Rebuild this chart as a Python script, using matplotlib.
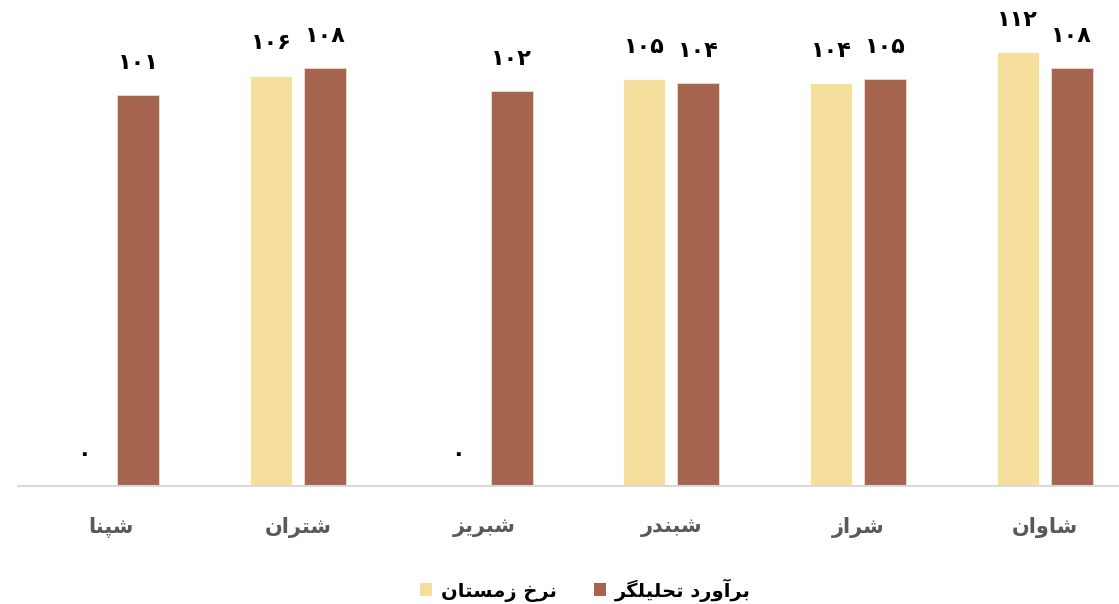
import matplotlib
matplotlib.use("Agg")
import matplotlib.pyplot as plt
from matplotlib.patches import Patch
import numpy as np

# Chart data
categories = ["شپنا", "شتران", "شبریز", "شبندر", "شراز", "شاوان"]
winter_rate = [0, 106, 0, 105, 104, 112]
analyst_estimate = [101, 108, 102, 104, 105, 108]
series_names = ["نرخ زمستان", "برآورد تحلیلگر"]

YELLOW = "#F6DF9C"
BROWN = "#A5644D"

# Minimal Persian shaping: contextual presentation forms + visual (RTL) order
FORMS = {
    'ا': ('\uFE8D', '\uFE8E', None, None),
    'آ': ('\uFE81', '\uFE82', None, None),
    'ب': ('\uFE8F', '\uFE90', '\uFE91', '\uFE92'),
    'پ': ('\uFB56', '\uFB57', '\uFB58', '\uFB59'),
    'ت': ('\uFE95', '\uFE96', '\uFE97', '\uFE98'),
    'ح': ('\uFEA1', '\uFEA2', '\uFEA3', '\uFEA4'),
    'خ': ('\uFEA5', '\uFEA6', '\uFEA7', '\uFEA8'),
    'د': ('\uFEA9', '\uFEAA', None, None),
    'ر': ('\uFEAD', '\uFEAE', None, None),
    'ز': ('\uFEAF', '\uFEB0', None, None),
    'س': ('\uFEB1', '\uFEB2', '\uFEB3', '\uFEB4'),
    'ش': ('\uFEB5', '\uFEB6', '\uFEB7', '\uFEB8'),
    'گ': ('\uFB92', '\uFB93', '\uFB94', '\uFB95'),
    'ل': ('\uFEDD', '\uFEDE', '\uFEDF', '\uFEE0'),
    'م': ('\uFEE1', '\uFEE2', '\uFEE3', '\uFEE4'),
    'ن': ('\uFEE5', '\uFEE6', '\uFEE7', '\uFEE8'),
    'و': ('\uFEED', '\uFEEE', None, None),
    'ی': ('\uFBFC', '\uFBFD', '\uFBFE', '\uFBFF'),
}


def shape(text):
    out = []
    n = len(text)
    for i, ch in enumerate(text):
        if ch not in FORMS:
            out.append(ch)
            continue
        iso, fin, ini, med = FORMS[ch]
        prev = text[i - 1] if i > 0 else None
        nxt = text[i + 1] if i < n - 1 else None
        joins_prev = prev in FORMS and FORMS[prev][2] is not None
        joins_next = ini is not None and nxt in FORMS
        if joins_prev and joins_next:
            out.append(med)
        elif joins_prev:
            out.append(fin)
        elif joins_next:
            out.append(ini)
        else:
            out.append(iso)
    return "".join(out)[::-1]


def fa_digits(v):
    return str(int(v)).translate(str.maketrans("0123456789", "۰۱۲۳۴۵۶۷۸۹"))


plt.rcParams['font.family'] = ['DejaVu Sans']

fig = plt.figure(figsize=(11.19, 6.04), dpi=100)
W, H = 1119, 604
left_px, right_px = 18, 1138
base_px, top_px = 486, 2
ax = fig.add_axes([left_px / W, (H - base_px) / H,
                   (right_px - left_px) / W, (base_px - top_px) / H])

x = np.arange(len(categories))
bw = 0.225
off = 0.1447
b1 = ax.bar(x - off, winter_rate, bw, color=YELLOW, edgecolor="white", linewidth=0.6)
b2 = ax.bar(x + off, analyst_estimate, bw, color=BROWN, edgecolor="#F0DCD4", linewidth=0.6)

for bars, vals in ((b1, winter_rate), (b2, analyst_estimate)):
    for rect, v in zip(bars, vals):
        ax.annotate(fa_digits(v), (rect.get_x() + rect.get_width() / 2, v),
                    xytext=(0, 16), textcoords="offset points",
                    ha="center", va="bottom", fontsize=16, fontweight="bold",
                    color="black")

ax.set_xlim(-0.5, 5.5)
ax.set_ylim(0, 125)
for s in ("top", "right", "left"):
    ax.spines[s].set_visible(False)
ax.spines["bottom"].set_color("#D9D9D9")
ax.spines["bottom"].set_linewidth(1.5)
ax.set_yticks([])
ax.set_xticks(x)
ax.set_xticklabels([shape(c) for c in categories], fontsize=15,
                   fontweight="bold", color="#595959")
ax.tick_params(axis="x", length=0, pad=22)

handles = [Patch(facecolor=YELLOW, edgecolor="none"),
           Patch(facecolor=BROWN, edgecolor="none")]
fig.legend(handles, [shape(s) for s in series_names], loc="center",
           bbox_to_anchor=(0.523, 1 - 590 / H), ncol=2, frameon=False,
           prop={"size": 14, "weight": "bold"}, handlelength=0.65,
           handleheight=0.65, handletextpad=0.45, columnspacing=1.9)

fig.savefig("out.png", dpi=100)
